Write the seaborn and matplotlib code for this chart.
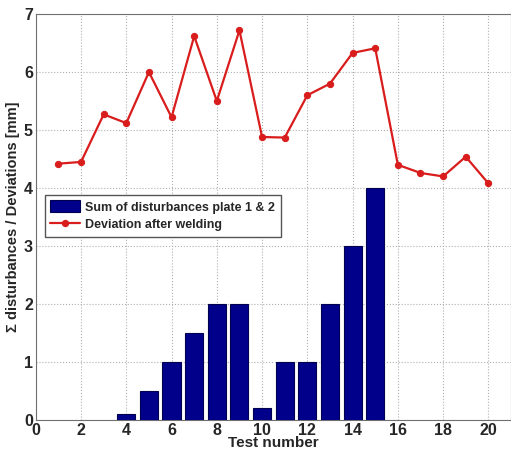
import matplotlib
matplotlib.use("Agg")
import matplotlib.pyplot as plt
import seaborn as sns
import pandas as pd

# data
bar_tests = [4, 5, 6, 7, 8, 9, 10, 11, 12, 13, 14, 15]
disturbances = [0.1, 0.5, 1.0, 1.5, 2.0, 2.0, 0.2, 1.0, 1.0, 2.0, 3.0, 4.0]
tests = list(range(1, 21))
deviation = [4.42, 4.45, 5.27, 5.12, 6.0, 5.22, 6.62, 5.5, 6.72, 4.88,
             4.87, 5.6, 5.8, 6.33, 6.41, 4.4, 4.26, 4.2, 4.54, 4.08]

sns.set_style("whitegrid")
plt.rcParams['font.family'] = ['Liberation Sans', 'DejaVu Sans']
plt.rcParams['font.weight'] = 'bold'

fig = plt.figure(figsize=(5.11, 4.54), dpi=100)
ax = fig.add_axes([0.070, 0.075, 0.93, 0.894])

bars_df = pd.DataFrame({"test": bar_tests, "value": disturbances})
line_df = pd.DataFrame({"test": tests, "value": deviation})

sns.barplot(data=bars_df, x="test", y="value", native_scale=True, width=0.8,
            color="#00008B", saturation=1, edgecolor="#000050", linewidth=0.8,
            ax=ax, label="Sum of disturbances plate 1 & 2", zorder=3)
sns.lineplot(data=line_df, x="test", y="value", color="#d91c1c", marker="o",
             markersize=4.5, markeredgecolor="#d91c1c", linewidth=1.6, ax=ax,
             label="Deviation after welding", zorder=4)

ax.set_xlim(0, 21)
ax.set_ylim(0, 7)
ax.set_xticks(range(0, 21, 2))
ax.set_yticks(range(0, 8))
ax.grid(True, linestyle=":", color="#b0b0b0", linewidth=0.8)
for s in ax.spines.values():
    s.set_color("#707070")
    s.set_linewidth(0.8)
ax.tick_params(labelsize=11.5, length=0, pad=2)
ax.set_xlabel("Test number", fontsize=11, fontweight="bold", labelpad=-1)
ax.set_ylabel("\u03a3 disturbances / Deviations [mm]", fontsize=10.5,
              fontweight="bold", labelpad=3)

handles, labels = ax.get_legend_handles_labels()
order = [labels.index("Sum of disturbances plate 1 & 2"),
         labels.index("Deviation after welding")]
leg = ax.legend([handles[i] for i in order], [labels[i] for i in order],
                loc="upper left", bbox_to_anchor=(0.006, 0.57), fontsize=9,
                frameon=True, fancybox=False, framealpha=1, borderpad=0.45,
                handlelength=2.4, handleheight=1.1, handletextpad=0.4,
                labelspacing=0.35)
leg.get_frame().set_edgecolor("#555555")

fig.savefig("out.png", dpi=100)
